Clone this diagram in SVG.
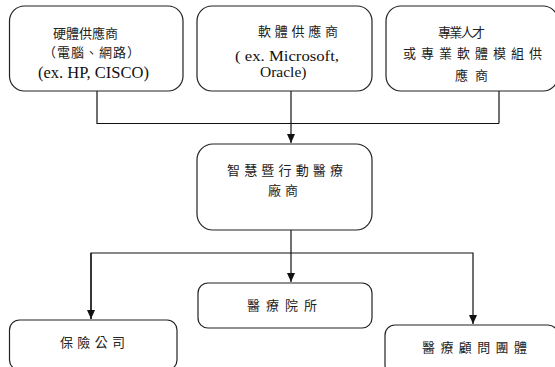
<svg xmlns="http://www.w3.org/2000/svg" width="555" height="367" viewBox="0 0 555 367">
<style>
.box{fill:#fff;stroke:#222;stroke-width:1.2}
.cjk{font-family:"Noto Sans CJK TC","Noto Sans CJK SC",sans-serif;font-size:13px;fill:#222}
.lat{font-family:"Liberation Serif",serif;font-size:16.5px;fill:#111}
.line{fill:none;stroke:#111;stroke-width:1.2}
</style>
<defs>
<marker id="arr" markerWidth="10" markerHeight="10" refX="9" refY="5" orient="auto" markerUnits="userSpaceOnUse">
<path d="M0,1 L9,5 L0,9 Z" fill="#111"/>
</marker>
</defs>
<rect width="555" height="367" fill="#fff"/>
<g id="connectors">
<path class="line" d="M97,91 V123.5 H499"/>
<path class="line" d="M499,91 V123.5"/>
<path class="line" d="M291,91 V143" marker-end="url(#arr)"/>
<path class="line" d="M291,230 V282" marker-end="url(#arr)"/>
<path class="line" d="M91,319 V253 H473 V324" marker-end="url(#arr)"/>
<path class="line" d="M91,253 V319" marker-end="url(#arr)"/>
</g>
<g id="hardware">
<rect class="box" x="9.5" y="6" width="173.5" height="85" rx="15"/>
<text class="cjk" x="53" y="37.5" textLength="65" lengthAdjust="spacing">硬體供應商</text>
<text class="cjk" x="43" y="57" textLength="97" lengthAdjust="spacing">（電腦、網路）</text>
<text class="lat" x="38" y="78">(ex. HP, CISCO)</text>
</g>
<g id="software">
<rect class="box" x="197" y="6" width="175" height="85" rx="15"/>
<text class="cjk" x="258" y="36" textLength="80" lengthAdjust="spacing">軟體供應商</text>
<text class="lat" x="235" y="60.5" style="font-size:15.5px" textLength="104" lengthAdjust="spacingAndGlyphs">( ex. Microsoft,</text>
<text class="lat" x="260" y="77" style="font-size:15.5px">Oracle)</text>
</g>
<g id="talent">
<rect class="box" x="386" y="6" width="172" height="85" rx="15"/>
<text class="cjk" x="438" y="37" textLength="47" lengthAdjust="spacing">專業人才</text>
<text class="cjk" x="403" y="58" textLength="139" lengthAdjust="spacing">或專業軟體模組供</text>
<text class="cjk" x="455" y="80" textLength="33" lengthAdjust="spacing">應商</text>
</g>
<g id="vendor">
<rect class="box" x="197" y="144" width="175" height="86" rx="16"/>
<text class="cjk" x="227" y="175" textLength="116" lengthAdjust="spacing">智慧暨行動醫療</text>
<text class="cjk" x="268" y="195" textLength="30" lengthAdjust="spacing">廠商</text>
</g>
<g id="insurance">
<rect class="box" x="9.5" y="320" width="167.5" height="50" rx="10"/>
<text class="cjk" x="60" y="347" textLength="65" lengthAdjust="spacing">保險公司</text>
</g>
<g id="hospital">
<rect class="box" x="198" y="283" width="174" height="45" rx="10"/>
<text class="cjk" x="247" y="310" textLength="70" lengthAdjust="spacing">醫療院所</text>
</g>
<g id="consultant">
<rect class="box" x="385" y="325" width="173" height="50" rx="10"/>
<text class="cjk" x="422" y="352" textLength="105" lengthAdjust="spacing">醫療顧問團體</text>
</g>
</svg>
